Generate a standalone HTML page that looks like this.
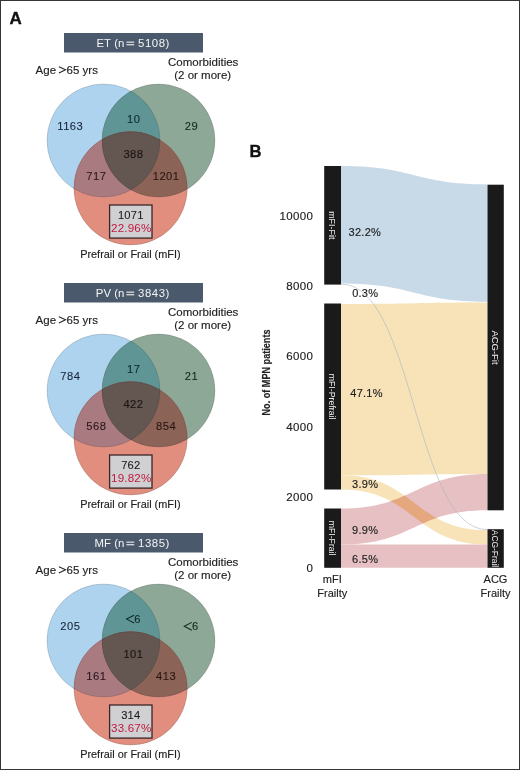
<!DOCTYPE html>
<html><head><meta charset="utf-8"><style>
html,body{margin:0;padding:0;background:#fff;}
body{width:520px;height:770px;overflow:hidden;}
svg{display:block;}
text{font-family:"Liberation Sans", sans-serif;}

</style></head><body>
<svg width="520" height="770" viewBox="0 0 520 770">
<rect x="0" y="0" width="520" height="770" fill="#fff"/>
<g style="filter:blur(0.3px)">
<text x="9.6" y="24" font-size="17" font-weight="bold" style="fill:#111;stroke:#111;stroke-width:0.35">A</text>
<defs><clipPath id="cb0"><circle cx="103.5" cy="140.5" r="56.5"/></clipPath><clipPath id="cg0"><circle cx="158.5" cy="140.5" r="56.5"/></clipPath></defs>
<g transform="translate(0,0)">
<rect x="64" y="33" width="139" height="19.5" fill="#4a5a6c"/>
<text x="111.0" y="46.6" text-anchor="end" style="fill:#f4f4f4" font-size="11.4">ET</text>
<text x="114.3" y="46.6" style="fill:#f4f4f4" font-size="11.4">(n</text>
<rect x="126.4" y="41.6" width="7.8" height="1.1" fill="#f0f0f0"/><rect x="126.4" y="44.2" width="7.8" height="1.1" fill="#f0f0f0"/>
<text x="138.0" y="46.6" style="fill:#f4f4f4" font-size="11.4" letter-spacing="0.55">5108)</text>
<text x="35.6" y="74.2" font-size="11.5" style="fill:#222;stroke:#222;stroke-width:0.15">Age</text>
<path d="M58.9,66.7 L65.6,69.85 L58.9,73.0" fill="none" stroke="#222" stroke-width="1.05"/>
<text x="66.6" y="74.2" font-size="11.5" style="fill:#222;stroke:#222;stroke-width:0.15">65 yrs</text>
<text x="203.2" y="66.3" text-anchor="middle" font-size="11.5" style="fill:#222;stroke:#222;stroke-width:0.15">Comorbidities</text>
<text x="202.7" y="78.6" text-anchor="middle" font-size="11.5" style="fill:#222;stroke:#222;stroke-width:0.15">(2 or more)</text>
</g>
<circle cx="103.5" cy="140.5" r="56.5" fill="#aed3ef"/>
<circle cx="158.5" cy="140.5" r="56.5" fill="#8ea898"/>
<circle cx="130.6" cy="188.3" r="56.7" fill="#e18e7f"/>
<circle cx="158.5" cy="140.5" r="56.5" fill="#5f9595" clip-path="url(#cb0)"/>
<circle cx="130.6" cy="188.3" r="56.7" fill="#a97b81" clip-path="url(#cb0)"/>
<circle cx="130.6" cy="188.3" r="56.7" fill="#8c6357" clip-path="url(#cg0)"/>
<g clip-path="url(#cg0)"><circle cx="130.6" cy="188.3" r="56.7" fill="#645752" clip-path="url(#cb0)"/></g>
<g fill="none" stroke="rgba(30,30,40,0.16)" stroke-width="1"><circle cx="103.5" cy="140.5" r="56.5"/><circle cx="158.5" cy="140.5" r="56.5"/><circle cx="130.6" cy="188.3" r="56.7"/></g>
<g transform="translate(0,0)">
<text x="70.3" y="130.4" text-anchor="middle" font-size="11.2" letter-spacing="0.45" style="fill:#17273a;stroke:#17273a;stroke-width:0.1">1163</text>
<text x="133.8" y="123.2" text-anchor="middle" font-size="11.2" letter-spacing="0.45" style="fill:#0c2a2c;stroke:#0c2a2c;stroke-width:0.1">10</text>
<text x="191.5" y="130.4" text-anchor="middle" font-size="11.2" letter-spacing="0.45" style="fill:#10291f;stroke:#10291f;stroke-width:0.1">29</text>
<text x="133.4" y="157.8" text-anchor="middle" font-size="11.2" letter-spacing="0.45" style="fill:#1a1412;stroke:#1a1412;stroke-width:0.1">388</text>
<text x="96.3" y="179.6" text-anchor="middle" font-size="11.2" letter-spacing="0.45" style="fill:#2a181d;stroke:#2a181d;stroke-width:0.1">717</text>
<text x="166.1" y="179.6" text-anchor="middle" font-size="11.2" letter-spacing="0.45" style="fill:#2a1610;stroke:#2a1610;stroke-width:0.1">1201</text>
<rect x="109.6" y="205.0" width="42.4" height="33.1" fill="#d0d0d3" stroke="#3a2626" stroke-width="1.3"/>
<text x="130.8" y="218.5" text-anchor="middle" font-size="11.2" letter-spacing="0.2" style="fill:#1c1c1c;stroke:#1c1c1c;stroke-width:0.1">1071</text>
<text x="131.25" y="231.9" text-anchor="middle" font-size="11.6" letter-spacing="0.2" style="fill:#c0183f">22.96%</text>
<text x="130.4" y="257.6" text-anchor="middle" font-size="10.9" style="fill:#222;stroke:#222;stroke-width:0.15">Prefrail or Frail (mFI)</text>
</g>
<defs><clipPath id="cb1"><circle cx="103.5" cy="390.5" r="56.5"/></clipPath><clipPath id="cg1"><circle cx="158.5" cy="390.5" r="56.5"/></clipPath></defs>
<g transform="translate(0,250)">
<rect x="64" y="33" width="139" height="19.5" fill="#4a5a6c"/>
<text x="111.0" y="46.6" text-anchor="end" style="fill:#f4f4f4" font-size="11.4">PV</text>
<text x="114.3" y="46.6" style="fill:#f4f4f4" font-size="11.4">(n</text>
<rect x="126.4" y="41.6" width="7.8" height="1.1" fill="#f0f0f0"/><rect x="126.4" y="44.2" width="7.8" height="1.1" fill="#f0f0f0"/>
<text x="138.0" y="46.6" style="fill:#f4f4f4" font-size="11.4" letter-spacing="0.55">3843)</text>
<text x="35.6" y="74.2" font-size="11.5" style="fill:#222;stroke:#222;stroke-width:0.15">Age</text>
<path d="M58.9,66.7 L65.6,69.85 L58.9,73.0" fill="none" stroke="#222" stroke-width="1.05"/>
<text x="66.6" y="74.2" font-size="11.5" style="fill:#222;stroke:#222;stroke-width:0.15">65 yrs</text>
<text x="203.2" y="66.3" text-anchor="middle" font-size="11.5" style="fill:#222;stroke:#222;stroke-width:0.15">Comorbidities</text>
<text x="202.7" y="78.6" text-anchor="middle" font-size="11.5" style="fill:#222;stroke:#222;stroke-width:0.15">(2 or more)</text>
</g>
<circle cx="103.5" cy="390.5" r="56.5" fill="#aed3ef"/>
<circle cx="158.5" cy="390.5" r="56.5" fill="#8ea898"/>
<circle cx="130.6" cy="438.3" r="56.7" fill="#e18e7f"/>
<circle cx="158.5" cy="390.5" r="56.5" fill="#5f9595" clip-path="url(#cb1)"/>
<circle cx="130.6" cy="438.3" r="56.7" fill="#a97b81" clip-path="url(#cb1)"/>
<circle cx="130.6" cy="438.3" r="56.7" fill="#8c6357" clip-path="url(#cg1)"/>
<g clip-path="url(#cg1)"><circle cx="130.6" cy="438.3" r="56.7" fill="#645752" clip-path="url(#cb1)"/></g>
<g fill="none" stroke="rgba(30,30,40,0.16)" stroke-width="1"><circle cx="103.5" cy="390.5" r="56.5"/><circle cx="158.5" cy="390.5" r="56.5"/><circle cx="130.6" cy="438.3" r="56.7"/></g>
<g transform="translate(0,250)">
<text x="70.3" y="130.4" text-anchor="middle" font-size="11.2" letter-spacing="0.45" style="fill:#17273a;stroke:#17273a;stroke-width:0.1">784</text>
<text x="133.8" y="123.2" text-anchor="middle" font-size="11.2" letter-spacing="0.45" style="fill:#0c2a2c;stroke:#0c2a2c;stroke-width:0.1">17</text>
<text x="191.5" y="130.4" text-anchor="middle" font-size="11.2" letter-spacing="0.45" style="fill:#10291f;stroke:#10291f;stroke-width:0.1">21</text>
<text x="133.4" y="157.8" text-anchor="middle" font-size="11.2" letter-spacing="0.45" style="fill:#1a1412;stroke:#1a1412;stroke-width:0.1">422</text>
<text x="96.3" y="179.6" text-anchor="middle" font-size="11.2" letter-spacing="0.45" style="fill:#2a181d;stroke:#2a181d;stroke-width:0.1">568</text>
<text x="166.1" y="179.6" text-anchor="middle" font-size="11.2" letter-spacing="0.45" style="fill:#2a1610;stroke:#2a1610;stroke-width:0.1">854</text>
<rect x="109.6" y="205.0" width="42.4" height="33.1" fill="#d0d0d3" stroke="#3a2626" stroke-width="1.3"/>
<text x="130.8" y="218.5" text-anchor="middle" font-size="11.2" letter-spacing="0.2" style="fill:#1c1c1c;stroke:#1c1c1c;stroke-width:0.1">762</text>
<text x="131.25" y="231.9" text-anchor="middle" font-size="11.6" letter-spacing="0.2" style="fill:#c0183f">19.82%</text>
<text x="130.4" y="257.6" text-anchor="middle" font-size="10.9" style="fill:#222;stroke:#222;stroke-width:0.15">Prefrail or Frail (mFI)</text>
</g>
<defs><clipPath id="cb2"><circle cx="103.5" cy="640.5" r="56.5"/></clipPath><clipPath id="cg2"><circle cx="158.5" cy="640.5" r="56.5"/></clipPath></defs>
<g transform="translate(0,500)">
<rect x="64" y="33" width="139" height="19.5" fill="#4a5a6c"/>
<text x="111.0" y="46.6" text-anchor="end" style="fill:#f4f4f4" font-size="11.4">MF</text>
<text x="114.3" y="46.6" style="fill:#f4f4f4" font-size="11.4">(n</text>
<rect x="126.4" y="41.6" width="7.8" height="1.1" fill="#f0f0f0"/><rect x="126.4" y="44.2" width="7.8" height="1.1" fill="#f0f0f0"/>
<text x="138.0" y="46.6" style="fill:#f4f4f4" font-size="11.4" letter-spacing="0.55">1385)</text>
<text x="35.6" y="74.2" font-size="11.5" style="fill:#222;stroke:#222;stroke-width:0.15">Age</text>
<path d="M58.9,66.7 L65.6,69.85 L58.9,73.0" fill="none" stroke="#222" stroke-width="1.05"/>
<text x="66.6" y="74.2" font-size="11.5" style="fill:#222;stroke:#222;stroke-width:0.15">65 yrs</text>
<text x="203.2" y="66.3" text-anchor="middle" font-size="11.5" style="fill:#222;stroke:#222;stroke-width:0.15">Comorbidities</text>
<text x="202.7" y="78.6" text-anchor="middle" font-size="11.5" style="fill:#222;stroke:#222;stroke-width:0.15">(2 or more)</text>
</g>
<circle cx="103.5" cy="640.5" r="56.5" fill="#aed3ef"/>
<circle cx="158.5" cy="640.5" r="56.5" fill="#8ea898"/>
<circle cx="130.6" cy="688.3" r="56.7" fill="#e18e7f"/>
<circle cx="158.5" cy="640.5" r="56.5" fill="#5f9595" clip-path="url(#cb2)"/>
<circle cx="130.6" cy="688.3" r="56.7" fill="#a97b81" clip-path="url(#cb2)"/>
<circle cx="130.6" cy="688.3" r="56.7" fill="#8c6357" clip-path="url(#cg2)"/>
<g clip-path="url(#cg2)"><circle cx="130.6" cy="688.3" r="56.7" fill="#645752" clip-path="url(#cb2)"/></g>
<g fill="none" stroke="rgba(30,30,40,0.16)" stroke-width="1"><circle cx="103.5" cy="640.5" r="56.5"/><circle cx="158.5" cy="640.5" r="56.5"/><circle cx="130.6" cy="688.3" r="56.7"/></g>
<g transform="translate(0,500)">
<text x="70.3" y="130.4" text-anchor="middle" font-size="11.2" letter-spacing="0.45" style="fill:#17273a;stroke:#17273a;stroke-width:0.1">205</text>
<path d="M134.10,115.20 L126.60,119.10 L134.10,123.00" fill="none" stroke="#0c2a2c" stroke-width="1.05"/>
<text x="134.20" y="123.2" font-size="11.2" style="fill:#0c2a2c;stroke:#0c2a2c;stroke-width:0.1">6</text>
<path d="M191.80,122.40 L184.30,126.30 L191.80,130.20" fill="none" stroke="#10291f" stroke-width="1.05"/>
<text x="191.90" y="130.4" font-size="11.2" style="fill:#10291f;stroke:#10291f;stroke-width:0.1">6</text>
<text x="133.4" y="157.8" text-anchor="middle" font-size="11.2" letter-spacing="0.45" style="fill:#1a1412;stroke:#1a1412;stroke-width:0.1">101</text>
<text x="96.3" y="179.6" text-anchor="middle" font-size="11.2" letter-spacing="0.45" style="fill:#2a181d;stroke:#2a181d;stroke-width:0.1">161</text>
<text x="166.1" y="179.6" text-anchor="middle" font-size="11.2" letter-spacing="0.45" style="fill:#2a1610;stroke:#2a1610;stroke-width:0.1">413</text>
<rect x="109.6" y="205.0" width="42.4" height="33.1" fill="#d0d0d3" stroke="#3a2626" stroke-width="1.3"/>
<text x="130.8" y="218.5" text-anchor="middle" font-size="11.2" letter-spacing="0.2" style="fill:#1c1c1c;stroke:#1c1c1c;stroke-width:0.1">314</text>
<text x="131.25" y="231.9" text-anchor="middle" font-size="11.6" letter-spacing="0.2" style="fill:#c0183f">33.67%</text>
<text x="130.4" y="257.6" text-anchor="middle" font-size="10.9" style="fill:#222;stroke:#222;stroke-width:0.15">Prefrail or Frail (mFI)</text>
</g>
<defs><clipPath id="cy2"><path d="M341.0,475.3 C414.25,475.3 414.25,530.3 487.5,530.3 L487.5,544.5 C414.25,544.5 414.25,489.5 341.0,489.5 Z"/></clipPath></defs>
<path d="M341.0,166.0 C414.25,166.0 414.25,184.4 487.5,184.4 L487.5,301.8 C414.25,301.8 414.25,283.5 341.0,283.5 Z" fill="#c8d9e8"/>
<path d="M341.0,303.9 C414.25,303.9 414.25,302.4 487.5,302.4 L487.5,473.9 C414.25,473.9 414.25,475.3 341.0,475.3 Z" fill="#f8e3b8"/>
<path d="M341.0,475.3 C414.25,475.3 414.25,530.3 487.5,530.3 L487.5,544.5 C414.25,544.5 414.25,489.5 341.0,489.5 Z" fill="#f8e3b8"/>
<path d="M341.0,508.5 C414.25,508.5 414.25,473.9 487.5,473.9 L487.5,510.3 C414.25,510.3 414.25,544.6 341.0,544.6 Z" fill="#e6c0c3"/>
<path d="M341.0,508.5 C414.25,508.5 414.25,473.9 487.5,473.9 L487.5,510.3 C414.25,510.3 414.25,544.6 341.0,544.6 Z" fill="#e4a77e" clip-path="url(#cy2)"/>
<path d="M341.0,544.6 C414.25,544.6 414.25,544.5 487.5,544.5 L487.5,567.8 C414.25,567.8 414.25,567.8 341.0,567.8 Z" fill="#e6c0c3"/>
<path d="M341.0,284.1 C414.25,284.1 414.25,529.7 487.5,529.7" fill="none" stroke="#aab4c0" stroke-width="0.6"/>
<rect x="324.2" y="166.0" width="16.80000000000001" height="118.60000000000002" fill="#1a1a1a"/>
<rect x="324.2" y="303.5" width="16.80000000000001" height="186.0" fill="#1a1a1a"/>
<rect x="324.2" y="508.5" width="16.80000000000001" height="59.299999999999955" fill="#1a1a1a"/>
<rect x="487.5" y="184.7" width="16.30000000000001" height="325.6" fill="#1a1a1a"/>
<rect x="487.5" y="529.2" width="16.30000000000001" height="38.59999999999991" fill="#1a1a1a"/>
<text transform="translate(329.3,225.3) rotate(90)" text-anchor="middle" font-size="9" textLength="28.2" lengthAdjust="spacingAndGlyphs" style="fill:#f0f0f0">mFI-Fit</text>
<text transform="translate(329.3,396.6) rotate(90)" text-anchor="middle" font-size="9" textLength="45.8" lengthAdjust="spacingAndGlyphs" style="fill:#f0f0f0">mFI-Prefrail</text>
<text transform="translate(329.3,538.1) rotate(90)" text-anchor="middle" font-size="9" textLength="34.8" lengthAdjust="spacingAndGlyphs" style="fill:#f0f0f0">mFI-Frail</text>
<text transform="translate(491.7,347.5) rotate(90)" text-anchor="middle" font-size="9" textLength="34.2" lengthAdjust="spacingAndGlyphs" style="fill:#f0f0f0">ACG-Fit</text>
<text transform="translate(491.7,548.5) rotate(90)" text-anchor="middle" font-size="9" textLength="37.4" lengthAdjust="spacingAndGlyphs" style="fill:#f0f0f0">ACG-Frail</text>
<text x="348.6" y="236.0" font-size="11" letter-spacing="0.25" style="fill:#222;stroke:#222;stroke-width:0.15">32.2%</text>
<text x="352.2" y="296.7" font-size="11" letter-spacing="0.25" style="fill:#222;stroke:#222;stroke-width:0.15">0.3%</text>
<text x="350.3" y="396.7" font-size="11" letter-spacing="0.25" style="fill:#222;stroke:#222;stroke-width:0.15">47.1%</text>
<text x="352.1" y="488.4" font-size="11" letter-spacing="0.25" style="fill:#222;stroke:#222;stroke-width:0.15">3.9%</text>
<text x="352.1" y="533.8" font-size="11" letter-spacing="0.25" style="fill:#222;stroke:#222;stroke-width:0.15">9.9%</text>
<text x="352.1" y="562.9" font-size="11" letter-spacing="0.25" style="fill:#222;stroke:#222;stroke-width:0.15">6.5%</text>
<text x="313.3" y="571.6" text-anchor="end" font-size="11.5" letter-spacing="0.35" style="fill:#222;stroke:#222;stroke-width:0.15">0</text>
<text x="313.3" y="501.20000000000005" text-anchor="end" font-size="11.5" letter-spacing="0.35" style="fill:#222;stroke:#222;stroke-width:0.15">2000</text>
<text x="313.3" y="430.8" text-anchor="end" font-size="11.5" letter-spacing="0.35" style="fill:#222;stroke:#222;stroke-width:0.15">4000</text>
<text x="313.3" y="360.4" text-anchor="end" font-size="11.5" letter-spacing="0.35" style="fill:#222;stroke:#222;stroke-width:0.15">6000</text>
<text x="313.3" y="290.0" text-anchor="end" font-size="11.5" letter-spacing="0.35" style="fill:#222;stroke:#222;stroke-width:0.15">8000</text>
<text x="313.3" y="219.6" text-anchor="end" font-size="11.5" letter-spacing="0.35" style="fill:#222;stroke:#222;stroke-width:0.15">10000</text>
<text transform="translate(269.9,372.5) rotate(-90)" text-anchor="middle" font-size="11.8" font-weight="bold" textLength="86" lengthAdjust="spacingAndGlyphs" style="fill:#222;stroke:#222;stroke-width:0.15">No. of MPN patients</text>
<text x="249.6" y="157.0" font-size="16.6" font-weight="bold" style="fill:#111;stroke:#111;stroke-width:0.35">B</text>
<text x="332.3" y="582.6" text-anchor="middle" font-size="11" style="fill:#222;stroke:#222;stroke-width:0.15">mFI</text>
<text x="332.3" y="596.5" text-anchor="middle" font-size="11" style="fill:#222;stroke:#222;stroke-width:0.15">Frailty</text>
<text x="495.5" y="582.6" text-anchor="middle" font-size="11" style="fill:#222;stroke:#222;stroke-width:0.15">ACG</text>
<text x="495.5" y="596.5" text-anchor="middle" font-size="11" style="fill:#222;stroke:#222;stroke-width:0.15">Frailty</text>
</g>
<rect x="0.5" y="0.5" width="519" height="769" fill="none" stroke="#363636" stroke-width="1"/>
</svg>
</body></html>
